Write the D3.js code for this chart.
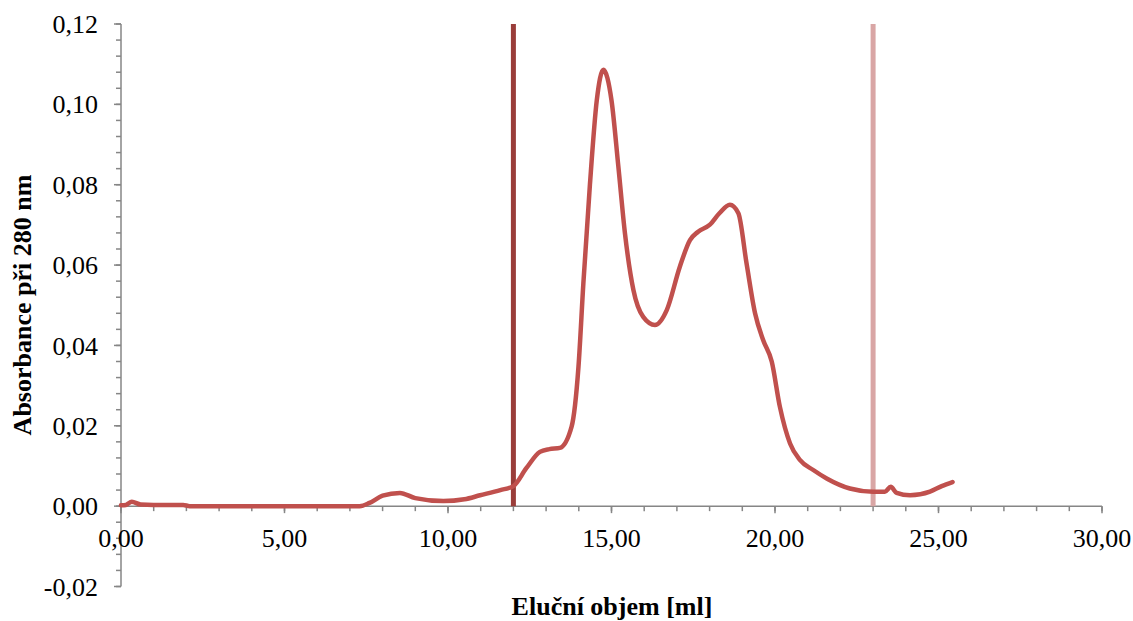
<!DOCTYPE html>
<html lang="cs">
<head>
<meta charset="utf-8" />
<title>Absorbance při 280 nm</title>
<script src="https://d3js.org/d3.v7.min.js"></script>
<style>
  body { margin: 0; background: #fff; }
  text { font-family: "Liberation Serif", "Times New Roman", serif; fill: #000; }
  .axis line, .axis path { stroke: #868686; stroke-width: 1.5px; }
</style>
</head>
<body>
<script>
// elution volume [ml] and absorbance
var volume = [0, 0.15, 0.33, 0.6, 1.0, 1.9, 2.1, 4.0, 6.0, 7.3, 7.6, 8.0, 8.53, 9.0, 9.86, 10.5, 10.98, 11.6, 12.0,
  12.4, 12.81, 13.1, 13.42, 13.78, 13.99, 14.14, 14.34, 14.55, 14.75, 15.0, 15.21, 15.41, 15.67, 15.97, 16.33,
  16.69, 17.09, 17.4, 17.65, 18.0, 18.3, 18.62, 18.88, 19.13, 19.39, 19.64, 19.9, 20.15, 20.46, 20.76, 21.17,
  21.58, 22.29, 23.0, 23.36, 23.54, 23.72, 24.13, 24.74, 25.1, 25.43];
var absorbance = [0.0002, 0.0003, 0.0011, 0.0004, 0.0003, 0.0003, 0.0, 0.0, 0.0, 0.0, 0.0008, 0.0026, 0.0033, 0.002, 0.00125, 0.0017, 0.0027, 0.004, 0.005,
  0.0095, 0.0135, 0.0142, 0.0145, 0.0198, 0.0347, 0.0555, 0.080, 0.101, 0.1086, 0.101, 0.0845, 0.068, 0.0538, 0.0471, 0.0451,
  0.0488, 0.0596, 0.0662, 0.0683, 0.070, 0.0729, 0.075, 0.0729, 0.0604, 0.048, 0.0413, 0.036, 0.0247, 0.0156, 0.0115, 0.009,
  0.0069, 0.0044, 0.0036, 0.0036, 0.0048, 0.0033, 0.0027, 0.0036, 0.005, 0.006];
var markerVolume = [12, 23];
var markerColor = ["#9a3d3a", "#d9a6a5"];
var xTicks = [0, 5, 10, 15, 20, 25, 30];
var yTicks = [-0.02, 0, 0.02, 0.04, 0.06, 0.08, 0.10, 0.12];

var width = 1133, height = 621;
var svg = d3.select("body").append("svg").attr("width", width).attr("height", height);

var x = d3.scaleLinear().domain([0, 30]).range([121, 1102]);
var y = d3.scaleLinear().domain([-0.02, 0.12]).range([586.5, 24]);
// Czech decimal comma, plain hyphen for negatives
var fmt = function (d) { return d3.format(".2f")(d).replace(".", ",").replace("\u2212", "-"); };

// y axis (minor ticks every 0.004)
var gy = svg.append("g").attr("class", "axis").attr("transform", "translate(" + x(0) + ",0)");
gy.append("line").attr("y1", y(-0.02)).attr("y2", y(0.12));
gy.selectAll(".minor").data(d3.range(-0.02, 0.1201, 0.004)).enter().append("line")
  .attr("x1", -5).attr("x2", 0).attr("y1", function (d) { return y(d); }).attr("y2", function (d) { return y(d); });
gy.selectAll(".major").data(yTicks).enter().append("line")
  .attr("x1", -7).attr("x2", 0).attr("y1", function (d) { return y(d); }).attr("y2", function (d) { return y(d); });
gy.selectAll("text").data(yTicks).enter().append("text")
  .attr("x", -23).attr("y", function (d) { return y(d); }).attr("dy", "0.35em")
  .attr("text-anchor", "end").style("font-size", "26px").text(fmt);

// x axis at y = 0 (minor ticks every 1 ml)
var gx = svg.append("g").attr("class", "axis").attr("transform", "translate(0," + y(0) + ")");
gx.append("line").attr("x1", x(0)).attr("x2", x(30));
gx.selectAll(".minor").data(d3.range(0, 31, 1)).enter().append("line")
  .attr("y1", 0).attr("y2", 5).attr("x1", function (d) { return x(d); }).attr("x2", function (d) { return x(d); });
gx.selectAll(".major").data(xTicks).enter().append("line")
  .attr("y1", 0).attr("y2", 7).attr("x1", function (d) { return x(d); }).attr("x2", function (d) { return x(d); });
gx.selectAll("text").data(xTicks).enter().append("text")
  .attr("x", function (d) { return x(d); }).attr("y", 41)
  .attr("text-anchor", "middle").style("font-size", "26px").text(fmt);

// fraction markers
svg.selectAll(".marker").data(markerVolume).enter().append("line")
  .attr("x1", function (d) { return x(d); }).attr("x2", function (d) { return x(d); })
  .attr("y1", y(0.12)).attr("y2", y(0))
  .attr("stroke", function (d, i) { return markerColor[i]; }).attr("stroke-width", 5);

// chromatogram
var pts = volume.map(function (v, i) { return [v, absorbance[i]]; });
var line = d3.line().x(function (d) { return x(d[0]); }).y(function (d) { return y(d[1]); }).curve(d3.curveMonotoneX);
svg.append("path").datum(pts).attr("d", line)
  .attr("fill", "none").attr("stroke", "#c0504d").attr("stroke-width", 4.5)
  .attr("stroke-linejoin", "round").attr("stroke-linecap", "round");

// titles
svg.append("text").attr("x", 612).attr("y", 615).attr("text-anchor", "middle")
  .style("font-size", "26px").style("font-weight", "bold").text("Eluční objem [ml]");
svg.append("text").attr("transform", "translate(31,305) rotate(-90)").attr("text-anchor", "middle")
  .style("font-size", "26px").style("font-weight", "bold").text("Absorbance při 280 nm");
</script>
</body>
</html>
